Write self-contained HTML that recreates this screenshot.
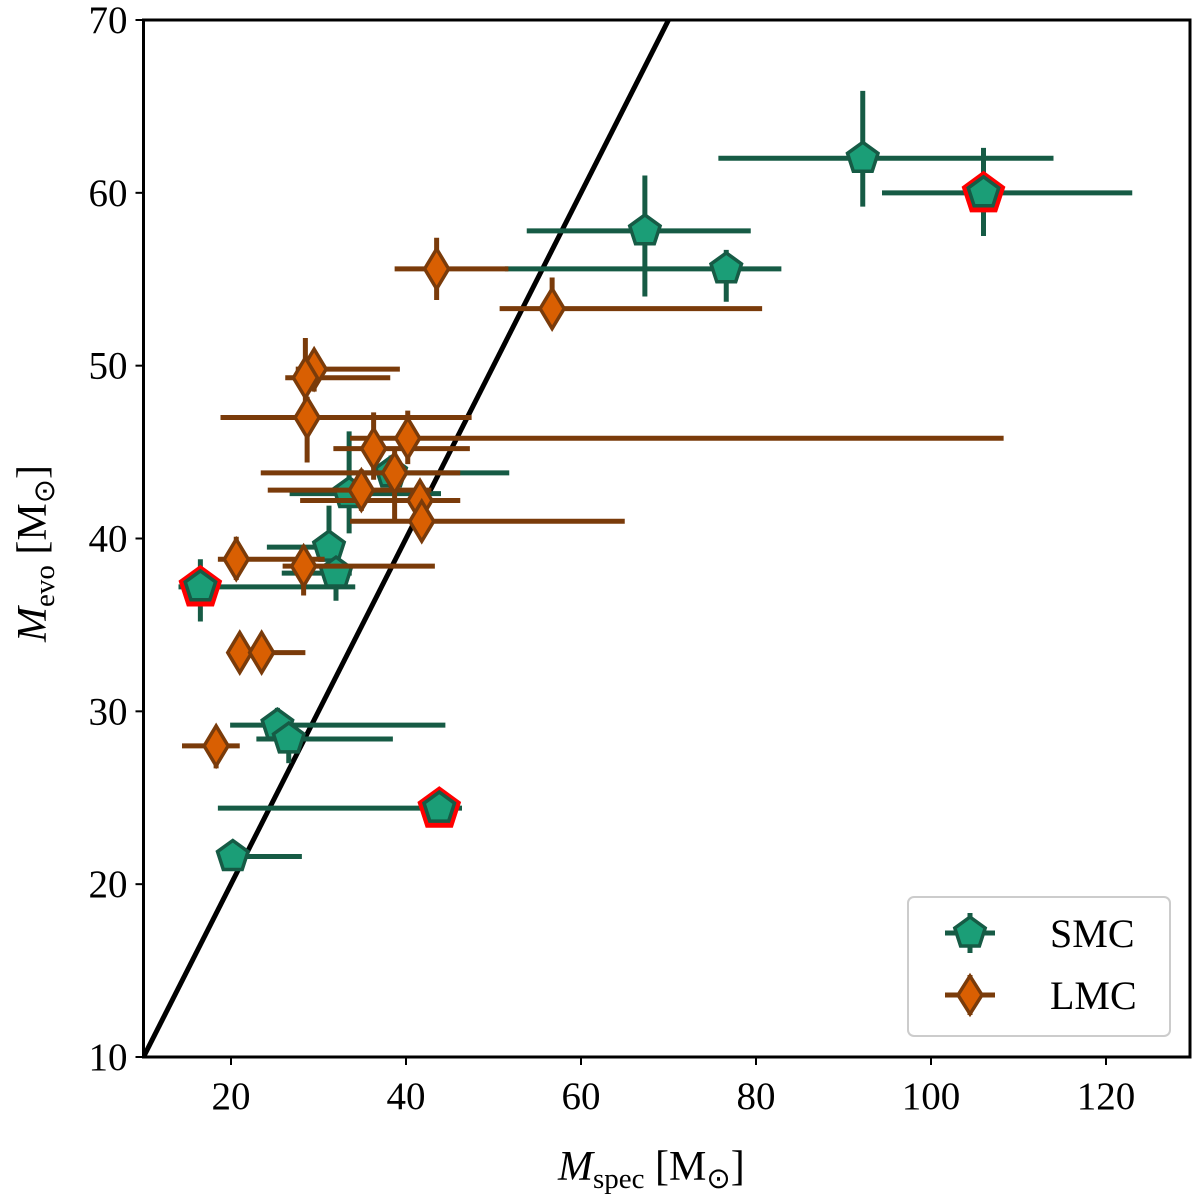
<!DOCTYPE html>
<html><head><meta charset="utf-8"><style>
body{margin:0;background:#fff;}
svg{display:block;font-family:"Liberation Serif",serif;}
</style></head><body>
<svg id="chart" width="1200" height="1198" viewBox="0 0 1200 1198" xmlns="http://www.w3.org/2000/svg"></svg>
<script>
// SMC data: x, y, x-low, x-high, y-low, y-high, highlighted
const smcX = [92.2, 106, 67.3, 76.6, 33.5, 38.3, 31.2, 32, 16.5, 25.3, 26.6, 43.8, 20.2];
const smcY = [62, 60, 57.8, 55.6, 42.6, 43.8, 39.5, 38, 37.2, 29.2, 28.4, 24.4, 21.6];
const smcXLo = [75.7, 94.4, 53.8, 51.3, 26.7, 33.4, 24.1, 25.8, 14, 19.9, 22.9, 18.5, 19];
const smcXHi = [114, 123, 79.4, 82.9, 44, 51.8, 32.2, 33.8, 34.2, 44.5, 38.5, 46.4, 28.1];
const smcYLo = [59.2, 57.5, 54, 53.7, 40.3, 42.7, 38.8, 36.4, 35.2, 28.3, 27, 24, 21];
const smcYHi = [65.9, 62.6, 61, 56.7, 46.2, 44.8, 41.9, 38.9, 38.8, 30.2, 28.9, 24.8, 22.1];
const smcRed = [0, 1, 0, 0, 0, 0, 0, 0, 1, 0, 0, 1, 0];
// LMC data
const lmcX = [43.5, 56.7, 29.5, 28.5, 28.7, 40.2, 36.3, 38.7, 34.9, 41.6, 41.8, 20.6, 28.3, 21, 23.5, 18.3];
const lmcY = [55.6, 53.3, 49.8, 49.3, 47, 45.8, 45.2, 43.8, 42.8, 42.2, 41, 38.8, 38.4, 33.4, 33.4, 28];
const lmcXLo = [38.7, 50.7, 27.4, 26.2, 18.8, 33.6, 31.7, 23.4, 24.2, 27.9, 33.6, 18.5, 25.9, 19.7, 22.1, 14.4];
const lmcXHi = [51.7, 80.7, 39.3, 38.2, 47.5, 108.3, 47.3, 46.2, 42.9, 46.2, 65, 30.7, 43.3, 22.4, 28.5, 21];
const lmcYLo = [53.8, 52.3, 48.5, 47.8, 44.4, 44.3, 43.4, 41.1, 41.6, 41.3, 39.9, 37.6, 36.7, 33.1, 33.1, 26.7];
const lmcYHi = [57.4, 55.1, 50.8, 51.6, 48.2, 47.4, 47.3, 45.2, 44, 43.1, 41.9, 40.1, 39.6, 33.7, 33.7, 28.9];
const xTicks = [20, 40, 60, 80, 100, 120];
const yTicks = [10, 20, 30, 40, 50, 60, 70];

const NS = "http://www.w3.org/2000/svg";
const svg = document.getElementById('chart');
const L = 143.5, R = 1190, T = 20, B = 1057;
const xMin = 10, xMax = 129.6, yMin = 10, yMax = 70;
const sx = v => L + (v - xMin) / (xMax - xMin) * (R - L);
const sy = v => B - (v - yMin) / (yMax - yMin) * (B - T);
function mk(tag, attrs, parent) {
  const e = document.createElementNS(NS, tag);
  for (const k in attrs) e.setAttribute(k, attrs[k]);
  (parent || svg).appendChild(e);
  return e;
}
const defs = mk('defs', {});
const cp = mk('clipPath', {id: 'clip'}, defs);
mk('rect', {x: L, y: T, width: R - L, height: B - T}, cp);
const plot = mk('g', {'clip-path': 'url(#clip)'});



const oneToOne = mk('line', {x1: sx(10), y1: sy(10), x2: sx(75), y2: sy(75), stroke: '#000', 'stroke-width': 5}, plot);



function pentagon(cx, cy, r) {
  const pts = [];
  for (let i = 0; i < 5; i++) {
    const a = -Math.PI / 2 + i * 2 * Math.PI / 5;
    pts.push((cx + r * Math.cos(a)).toFixed(1) + ',' + (cy + r * Math.sin(a)).toFixed(1));
  }
  return pts.join(' ');
}
function diamond(cx, cy, w, h) {
  return `${cx},${cy - h} ${cx + w},${cy} ${cx},${cy + h} ${cx - w},${cy}`;
}
function drawSeries(X, Y, XL, XH, YL, YH, ecol, fcol, shape, name, red) {
  const g = mk('g', {}, plot);
  
  
  for (let i = 0; i < X.length; i++) {
    const eb = mk('g', {}, g);
    
    
    mk('line', {x1: sx(XL[i]), x2: sx(XH[i]), y1: sy(Y[i]), y2: sy(Y[i]), stroke: ecol, 'stroke-width': 5}, eb);
    mk('line', {x1: sx(X[i]), x2: sx(X[i]), y1: sy(YL[i]), y2: sy(YH[i]), stroke: ecol, 'stroke-width': 5}, eb);
  }
  for (let i = 0; i < X.length; i++) {
    const cx = sx(X[i]), cy = sy(Y[i]);
    if (red && red[i]) {
      const rr = mk('polygon', {points: pentagon(cx, cy + 1, 23), fill: '#ff0000'}, g);
      
      
    }
    const m = mk('polygon', {points: shape === 'p' ? pentagon(cx, cy, 16) : diamond(cx, cy, 12, 20), fill: fcol, stroke: ecol, 'stroke-width': 3.5}, g);
    
    
  }
}
drawSeries(smcX, smcY, smcXLo, smcXHi, smcYLo, smcYHi, '#165b45', '#1b9e77', 'p', 'smc', smcRed);
drawSeries(lmcX, lmcY, lmcXLo, lmcXHi, lmcYLo, lmcYHi, '#7a3b0a', '#d95f02', 'd', 'lmc', null);

const frame = mk('rect', {x: L, y: T, width: R - L, height: B - T, fill: 'none', stroke: '#000', 'stroke-width': 3});



xTicks.forEach(v => {
  mk('line', {x1: sx(v), x2: sx(v), y1: B, y2: B + 8, stroke: '#000', 'stroke-width': 2});
  const t = mk('text', {x: sx(v), y: B + 52, 'font-size': 39, 'text-anchor': 'middle'});
  t.textContent = v;
  
  
});
yTicks.forEach(v => {
  mk('line', {x1: L - 8, x2: L, y1: sy(v), y2: sy(v), stroke: '#000', 'stroke-width': 2});
  const t = mk('text', {x: L - 16, y: sy(v) + 13, 'font-size': 39, 'text-anchor': 'end'});
  t.textContent = v;
  
  
});
</script>
<svg style="position:absolute;left:0;top:0" width="1200" height="1198" xmlns="http://www.w3.org/2000/svg" font-family="Liberation Serif, serif">
  <text x="558" y="1180" font-size="42"><tspan font-style="italic">M</tspan><tspan font-size="29" dy="8">spec</tspan><tspan dy="-8"> [M</tspan><tspan font-size="29" dy="8">⊙</tspan><tspan dy="-8">]</tspan></text>
  <text transform="translate(46,642) rotate(-90)" font-size="42"><tspan font-style="italic">M</tspan><tspan font-size="29" dy="8">evo</tspan><tspan dy="-8"> [M</tspan><tspan font-size="29" dy="8">⊙</tspan><tspan dy="-8">]</tspan></text>
  <g>
    <rect x="908" y="897" width="262" height="139" rx="6" fill="#fff" stroke="#ccc" stroke-width="2"/>
    <g>
      <line x1="945" x2="995" y1="933" y2="933" stroke="#165b45" stroke-width="5"/>
      <line x1="970" x2="970" y1="913" y2="953" stroke="#165b45" stroke-width="5"/>
      <polygon points="970,917 985.2,928 979.4,946 960.6,946 954.8,928" fill="#1b9e77" stroke="#165b45" stroke-width="3.5"/>
      <text x="1050" y="947" font-size="40">SMC</text>
    </g>
    <g>
      <line x1="945" x2="995" y1="995" y2="995" stroke="#7a3b0a" stroke-width="5"/>
      <line x1="970" x2="970" y1="975" y2="1015" stroke="#7a3b0a" stroke-width="5"/>
      <polygon points="970,976 982,995 970,1014 958,995" fill="#d95f02" stroke="#7a3b0a" stroke-width="3.5"/>
      <text x="1050" y="1009" font-size="40">LMC</text>
    </g>
  </g>
</svg>
</body></html>
